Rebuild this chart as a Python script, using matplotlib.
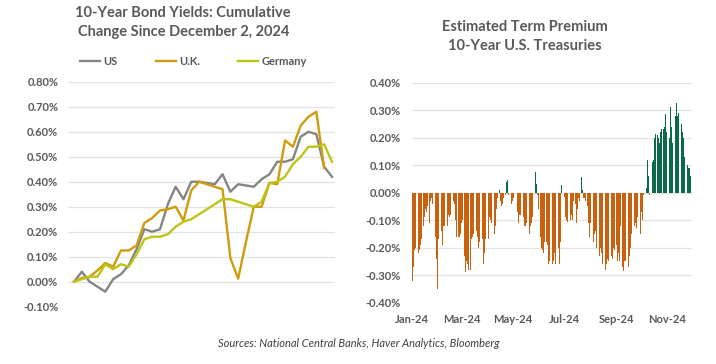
import numpy as np
import pandas as pd
import matplotlib
matplotlib.use("Agg")
import matplotlib.pyplot as plt
import matplotlib.dates as mdates
from matplotlib.ticker import FuncFormatter, MultipleLocator

plt.rcParams['font.family'] = ['Lato', 'DejaVu Sans']

# ---- left panel: cumulative change in 10y yields since Dec 2, 2024 (pct points)
us = [0.00, 0.04, 0.00, -0.02, -0.04, 0.01, 0.03, 0.065, 0.13, 0.21, 0.20, 0.21,
      0.31, 0.38, 0.33, 0.40, 0.40, 0.395, 0.39, 0.43, 0.36, 0.39, 0.385, 0.38,
      0.41, 0.43, 0.48, 0.48, 0.49, 0.58, 0.60, 0.59, 0.46, 0.42]
uk = [0.00, 0.015, 0.02, 0.045, 0.075, 0.06, 0.125, 0.125, 0.145, 0.235, 0.255,
      0.285, 0.29, 0.30, 0.245, 0.365, 0.40, 0.39, 0.38, 0.37, 0.095, 0.012,
      0.16, 0.30, 0.30, 0.395, 0.39, 0.565, 0.54, 0.625, 0.66, 0.68, 0.455]
germany = [0.00, 0.01, 0.02, 0.02, 0.07, 0.05, 0.07, 0.06, 0.11, 0.17, 0.18, 0.18,
           0.19, 0.22, 0.24, 0.25, 0.27, 0.29, 0.31, 0.33, 0.33, 0.32, 0.31, 0.30,
           0.32, 0.395, 0.40, 0.42, 0.47, 0.50, 0.54, 0.54, 0.55, 0.48]

# ---- right panel: estimated 10y term premium, business days from Jan 1, 2024 (pct)
term_premium = [
    -0.32, -0.34, -0.27, -0.21, -0.20,
    -0.23, -0.22, -0.21, -0.19, -0.17,
    -0.12, -0.09, -0.06, -0.07, -0.05,
    -0.11, -0.03, -0.02, -0.04, -0.03,
    -0.16, -0.24, -0.35, -0.24, -0.17,
    -0.14, -0.19, -0.15, -0.12, -0.12,
    -0.12, -0.08, -0.08, -0.09, -0.08,
    -0.02, -0.03, -0.04, -0.10, -0.16,
    -0.16, -0.16, -0.15, -0.11, -0.10,
    -0.23, -0.29, -0.25, -0.26, -0.28,
    -0.28, -0.17, -0.16, -0.15, -0.19,
    -0.14, -0.16, -0.20, -0.19, -0.18,
    -0.17, -0.26, -0.23, -0.22, -0.17,
    -0.17, -0.12, -0.09, -0.10, -0.11,
    -0.13, -0.15, -0.12, -0.06, -0.02,
    0.01, -0.03, -0.05, -0.04, -0.02,
    -0.01, 0.04, 0.045, -0.01, -0.03,
    -0.04, -0.03, -0.02, -0.01, 0.00,
    -0.07, -0.11, -0.08, -0.09, -0.08,
    -0.09, -0.12, -0.13, -0.12, -0.11,
    -0.15, -0.19, -0.12, -0.11, -0.09,
    -0.02, 0.075, 0.03, -0.01, -0.06,
    -0.16, -0.20, -0.21, -0.22, -0.18,
    -0.18, -0.19, -0.26, -0.25, -0.26,
    -0.26, -0.25, -0.22, -0.23, -0.26,
    -0.20, -0.26, -0.19, -0.18, 0.028,
    -0.015, -0.08, -0.09, -0.10, -0.105,
    -0.09, -0.10, -0.08, -0.10, -0.03,
    -0.04, -0.11, -0.06, -0.02, -0.03,
    0.056, 0.01, -0.02, -0.02, -0.03,
    -0.05, -0.11, -0.16, -0.11, -0.275,
    -0.18, -0.15, -0.14, -0.19, -0.20,
    -0.23, -0.20, -0.21, -0.22, -0.26,
    -0.28, -0.25, -0.26, -0.24, -0.25,
    -0.22, -0.23, -0.24, -0.20, -0.21,
    -0.19, -0.25, -0.22, -0.25, -0.12,
    -0.27, -0.285, -0.25, -0.25, -0.27,
    -0.27, -0.23, -0.20, -0.17, -0.15,
    -0.12, -0.11, -0.13, -0.12, -0.09,
    -0.15, -0.07, -0.08, -0.10, -0.01,
    0.017, 0.053, 0.118, 0.06, -0.01,
    0.00, 0.11, 0.118, 0.20, 0.215,
    0.21, 0.20, 0.18, 0.22, 0.23,
    0.23, 0.24, 0.285, 0.22, 0.23,
    0.20, 0.31, 0.24, 0.22, 0.18,
    0.28, 0.325, 0.26, 0.28, 0.29,
    0.25, 0.27, 0.22, 0.20, 0.13,
    0.13, 0.10, 0.09, 0.09, 0.06,
]
tp_start = "2024-01-01"
month_ticks = ["2024-01-01", "2024-03-01", "2024-05-01", "2024-07-01", "2024-09-01", "2024-11-01"]
month_labels = ["Jan-24", "Mar-24", "May-24", "Jul-24", "Sep-24", "Nov-24"]

txt = '#595959'
grid = '#E3E3E3'
pct = FuncFormatter(lambda v, p: f"{v:.2f}%")

fig = plt.figure(figsize=(7.16, 3.64), dpi=100)

# left
ax1 = fig.add_axes([0.095, 0.1574, 0.373, 0.618])
x = np.arange(len(us))
ax1.plot(x, us, color='#858585', lw=1.7, label='US')
ax1.plot(np.arange(len(uk)), uk, color='#D09B0C', lw=1.7, label='U.K.')
ax1.plot(np.arange(len(germany)), germany, color='#BCC416', lw=1.7, label='Germany')
ax1.set_ylim(-0.10, 0.80)
ax1.set_xlim(-0.77, 33.4)
ax1.yaxis.set_major_locator(MultipleLocator(0.1))
ax1.yaxis.set_major_formatter(pct)
ax1.set_xticks([])
ax1.grid(axis='y', color=grid, lw=0.9)
ax1.set_axisbelow(True)
for s in ax1.spines.values():
    s.set_visible(False)
ax1.tick_params(axis='y', length=0, pad=7, labelsize=8, labelcolor=txt)
for t in ax1.get_yticklabels():
    t.set_fontweight('bold')
leg = ax1.legend(ncol=3, loc='center', bbox_to_anchor=(0.47, 1.09), frameon=False,
                 handlelength=1.8, handletextpad=0.35, columnspacing=3.4,
                 prop={'size': 8, 'weight': 'bold'})
for t in leg.get_texts():
    t.set_color(txt)
fig.text(0.256, 0.937, "10-Year Bond Yields: Cumulative\nChange Since December 2, 2024",
         ha='center', va='center', fontsize=10.5, fontweight='bold', color=txt,
         linespacing=1.45)

# right
ax2 = fig.add_axes([0.575, 0.1684, 0.391, 0.6044])
dates = pd.bdate_range(tp_start, periods=len(term_premium))
tp = np.array(term_premium)
cols = np.where(tp >= 0, '#0B6A4C', '#C9610F')
ax2.bar(dates, tp, width=1.0, color=cols, linewidth=0)
ax2.set_ylim(-0.40, 0.40)
d0 = pd.Timestamp(tp_start)
ax2.set_xlim(d0 - pd.Timedelta(hours=12), d0 + pd.Timedelta(days=334.5))
ax2.yaxis.set_major_locator(MultipleLocator(0.1))
ax2.yaxis.set_major_formatter(pct)
ax2.set_xticks(pd.to_datetime(month_ticks))
ax2.set_xticklabels(month_labels)
ax2.grid(axis='y', color=grid, lw=0.9)
ax2.set_axisbelow(True)
for s in ax2.spines.values():
    s.set_visible(False)
ax2.tick_params(axis='y', length=0, pad=8, labelsize=8, labelcolor=txt)
ax2.tick_params(axis='x', length=0, pad=8, labelsize=8, labelcolor=txt)
for t in ax2.get_yticklabels() + ax2.get_xticklabels():
    t.set_fontweight('bold')
fig.text(0.733, 0.901, "Estimated Term Premium\n10-Year U.S. Treasuries",
         ha='center', va='center', fontsize=10.5, fontweight='bold', color=txt,
         linespacing=1.45)

fig.text(0.5014, 0.055, "Sources: National Central Banks, Haver Analytics, Bloomberg",
         ha='center', va='center', fontsize=8, style='italic', color='#404040')

fig.savefig("out.png", dpi=100)
